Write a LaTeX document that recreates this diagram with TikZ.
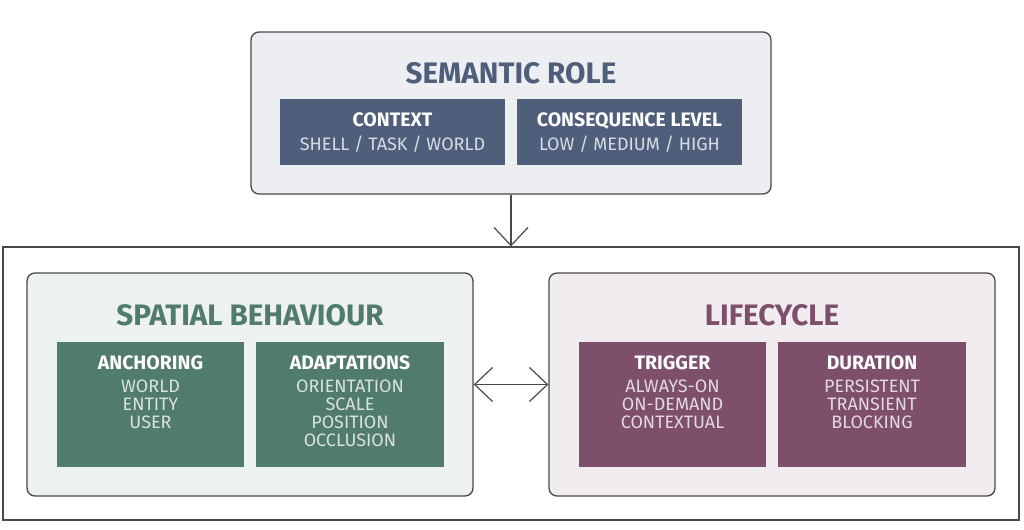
\documentclass[tikz,border=0pt]{standalone}
\usepackage{fontspec}
\setmainfont{Fira Sans}
\usetikzlibrary{arrows.meta}
\definecolor{edge}{HTML}{4A4A4A}
\definecolor{slate}{HTML}{4F5F7B}
\definecolor{slatebg}{HTML}{ECEEF2}
\definecolor{sgreen}{HTML}{517B6E}
\definecolor{sgreenbg}{HTML}{EDF1F0}
\definecolor{plum}{HTML}{7D4F6B}
\definecolor{plumbg}{HTML}{F1ECEF}
\tikzset{
  box/.style 2 args={minimum width=#1*0.75pt, minimum height=#2*0.75pt},
  panel/.style={draw=edge, line width=1pt, rounded corners=6pt, inner sep=0pt},
  cell/.style={fill=#1, inner sep=0pt},
  ttl/.style={font=\fontsize{22.2}{22.2}\selectfont\bfseries, text=#1, inner sep=0pt, anchor=base},
  hd/.style={font=\fontsize{14.6}{14.6}\selectfont\bfseries, text=white, inner sep=0pt, anchor=base},
  subt/.style={font=\fontsize{13.5}{13.5}\selectfont, text=white!78!#1, inner sep=0pt, anchor=base},
  barbtip/.tip={Straight Barb[length=13.5pt, width=25.5pt]},
  conn/.style={draw=edge, line width=0.9pt}
}
\begin{document}
\begin{tikzpicture}[x=0.75pt, y=-0.75pt]
\fill[white] (0,0) rectangle (1024,529);
\useasboundingbox (0,0) rectangle (1024,529);

% outer frame
\node[draw=edge, line width=1pt, inner sep=0pt, box={1016}{273}] (outer) at (511,383.5) {};

% semantic role
\node[panel, fill=slatebg, box={520}{162}] (sem) at (511,113) {};
\node[ttl=slate] (semt) at (511,83.2) {SEMANTIC ROLE};
\node[cell=slate, box={225}{66}] (ctx) at (392.5,132) {};
\node[hd] (ctxh) at (392.5,126.7) {CONTEXT};
\node[subt=slate] (ctxs) at (392.5,150.5) {SHELL / TASK / WORLD};
\node[cell=slate, box={225}{66}] (csq) at (629.5,132) {};
\node[hd] (csqh) at (629.5,126.7) {CONSEQUENCE LEVEL};
\node[subt=slate] (csqs) at (629.5,150.5) {LOW / MEDIUM / HIGH};

% spatial behaviour
\node[panel, fill=sgreenbg, box={446}{223}] (spa) at (250,384.5) {};
\node[ttl=sgreen] (spat) at (250,325.2) {SPATIAL BEHAVIOUR};
\node[cell=sgreen, box={187}{125}] (anc) at (150.5,404.5) {};
\node[hd] (anch) at (150.5,369.7) {ANCHORING};
\node[subt=sgreen] (anc1) at (150.5,392.5) {WORLD};
\node[subt=sgreen] (anc2) at (150.5,410.5) {ENTITY};
\node[subt=sgreen] (anc3) at (150.5,428.5) {USER};
\node[cell=sgreen, box={188}{125}] (ada) at (350,404.5) {};
\node[hd] (adah) at (350,369.7) {ADAPTATIONS};
\node[subt=sgreen] (ada1) at (350,392.5) {ORIENTATION};
\node[subt=sgreen] (ada2) at (350,410.5) {SCALE};
\node[subt=sgreen] (ada3) at (350,428.5) {POSITION};
\node[subt=sgreen] (ada4) at (350,446.5) {OCCLUSION};

% lifecycle
\node[panel, fill=plumbg, box={446}{223}] (life) at (772,384.5) {};
\node[ttl=plum] (lifet) at (772,325.2) {LIFECYCLE};
\node[cell=plum, box={187}{125}] (trg) at (672.5,404.5) {};
\node[hd] (trgh) at (672.5,369.7) {TRIGGER};
\node[subt=plum] (trg1) at (672.5,392.5) {ALWAYS-ON};
\node[subt=plum] (trg2) at (672.5,410.5) {ON-DEMAND};
\node[subt=plum] (trg3) at (672.5,428.5) {CONTEXTUAL};
\node[cell=plum, box={188}{125}] (dur) at (872,404.5) {};
\node[hd] (durh) at (872,369.7) {DURATION};
\node[subt=plum] (dur1) at (872,392.5) {PERSISTENT};
\node[subt=plum] (dur2) at (872,410.5) {TRANSIENT};
\node[subt=plum] (dur3) at (872,428.5) {BLOCKING};

% connectors
\draw[conn, -barbtip] (sem.south) -- (outer.north);
\draw[conn, barbtip-barbtip] (spa.east) -- (life.west);
\end{tikzpicture}
\end{document}
